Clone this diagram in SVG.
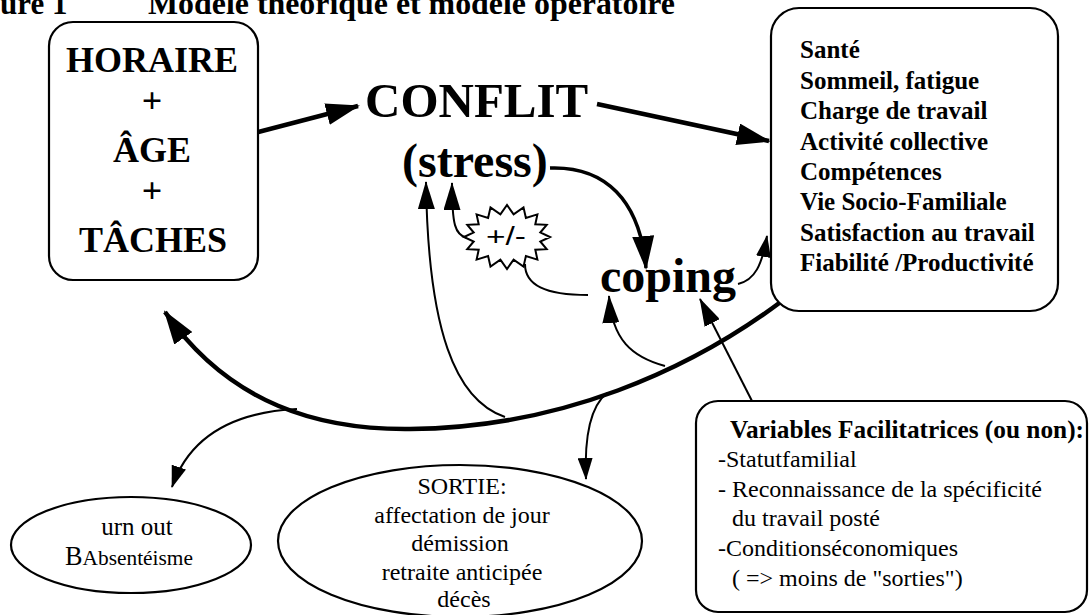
<svg xmlns="http://www.w3.org/2000/svg" width="1091" height="615" viewBox="0 0 1091 615">
<defs>
<style>
.t{font-family:"Liberation Serif","Times New Roman",serif;fill:#000}
.b{font-weight:bold}
.box{fill:#fff;stroke:#000;stroke-width:2.2}
.thick{fill:none;stroke:#000;stroke-width:4.5}
.mid{fill:none;stroke:#000;stroke-width:3.5}
.thin{fill:none;stroke:#000;stroke-width:2}
</style>
<marker id="big" markerUnits="userSpaceOnUse" viewBox="0 0 34 22" refX="32" refY="11" markerWidth="34" markerHeight="22" orient="auto"><path d="M0,0 L34,11 L0,22 z" fill="#000"/></marker>
<marker id="med" markerUnits="userSpaceOnUse" viewBox="0 0 28 17" refX="27" refY="8.5" markerWidth="28" markerHeight="17" orient="auto"><path d="M0,0 L28,8.5 L0,17 z" fill="#000"/></marker>
<marker id="sm" markerUnits="userSpaceOnUse" viewBox="0 0 22 15" refX="21" refY="7.5" markerWidth="22" markerHeight="15" orient="auto"><path d="M0,0 L22,7.5 L0,15 z" fill="#000"/></marker>
</defs>
<rect width="1091" height="615" fill="#fff"/>

<g id="title">
<text class="t b" x="0" y="14" font-size="31">ure 1</text>
<text class="t b" x="148" y="14" font-size="31" textLength="527" lengthAdjust="spacingAndGlyphs">Modèle théorique et modèle opératoire</text>
</g>

<g id="connectors">
<path class="thick" d="M197,148 L358,106" marker-end="url(#big)"/>
<path class="thick" d="M597,104 L769,141" marker-end="url(#big)"/>
<path class="mid" d="M550,168 C605,166 640,200 646,268" marker-end="url(#big)"/>
<path class="thin" d="M738,284 C755,280 762,265 767,236" marker-end="url(#sm)"/>
<path class="thick" d="M782,301 C690,370 560,428 410,429 C320,430 230,405 165,312" marker-end="url(#big)"/>
<path class="thin" d="M297,409 C235,412 190,435 172,487" marker-end="url(#sm)"/>
<path class="thin" d="M505,417 C455,400 428,330 426,182" marker-end="url(#med)"/>
<path class="thin" d="M467,238 C455,235 452,225 452,183" marker-end="url(#med)"/>
<path class="thin" d="M588,295 C545,295 525,285 525,264"/>
<path class="thin" d="M665,366 C632,357 612,340 609,296" marker-end="url(#med)"/>
<path class="thin" d="M752,401 L700,299" marker-end="url(#med)"/>
<path class="thin" d="M607,393 C592,405 584,430 586,479" marker-end="url(#sm)"/>
</g>

<g id="horaire">
<rect class="box" x="49" y="22" width="209" height="258" rx="24"/>
<text class="t b" x="152" y="72" font-size="36" text-anchor="middle">HORAIRE</text>
<text class="t b" x="152" y="113" font-size="36" text-anchor="middle">+</text>
<text class="t b" x="152" y="162" font-size="36" text-anchor="middle">ÂGE</text>
<text class="t b" x="152" y="203" font-size="36" text-anchor="middle">+</text>
<text class="t b" x="153" y="252" font-size="36" text-anchor="middle">TÂCHES</text>
</g>

<g id="conflit">
<text class="t b" x="365" y="117" font-size="49">CONFLIT</text>
<text class="t b" x="402" y="177" font-size="48">(stress)</text>
</g>

<g id="coping">
<text class="t b" x="600" y="292" font-size="48">coping</text>
</g>

<g id="plusminus">
<polygon fill="#fff" stroke="#000" stroke-width="2" points="550,237 540.3,241.5 546.7,249.2 535.3,249.8 537.4,259.6 525.9,256.1 523.5,266.6 513.6,259.6 507,269 500.4,259.6 490.5,266.6 488.1,256.1 476.6,259.6 478.7,249.8 467.3,249.2 473.7,241.5 464,237 473.7,232.5 467.3,224.8 478.7,224.2 476.6,214.4 488.1,217.9 490.5,207.4 500.4,214.4 507,205 513.6,214.4 523.5,207.4 525.9,217.9 537.4,214.4 535.3,224.2 546.7,224.8 540.3,232.5"/>
<text x="486" y="245" font-family="Liberation Sans, Arial, sans-serif" font-size="26" textLength="40" lengthAdjust="spacingAndGlyphs">+/-</text>
</g>

<g id="effets">
<rect class="box" x="771" y="8" width="287" height="303" rx="28"/>
<text class="t b" x="800" y="58" font-size="25">Santé</text>
<text class="t b" x="800" y="89" font-size="25">Sommeil, fatigue</text>
<text class="t b" x="800" y="119" font-size="25">Charge de travail</text>
<text class="t b" x="800" y="150" font-size="25">Activité collective</text>
<text class="t b" x="800" y="180" font-size="25">Compétences</text>
<text class="t b" x="800" y="210" font-size="25">Vie Socio-Familiale</text>
<text class="t b" x="800" y="241" font-size="25">Satisfaction au travail</text>
<text class="t b" x="800" y="271" font-size="25">Fiabilité /Productivité</text>
</g>

<g id="burnout">
<ellipse class="box" cx="131" cy="545" rx="120" ry="48"/>
<text class="t" x="137" y="535" font-size="25" text-anchor="middle">urn out</text>
<text class="t" x="65" y="565" font-size="22" textLength="128" lengthAdjust="spacingAndGlyphs"><tspan font-size="27">B</tspan>Absentéisme</text>
</g>

<g id="sortie">
<ellipse class="box" cx="460" cy="541" rx="182" ry="76"/>
<text class="t" x="462" y="494" font-size="24" text-anchor="middle">SORTIE:</text>
<text class="t" x="462" y="523" font-size="24" text-anchor="middle">affectation de jour</text>
<text class="t" x="460" y="551" font-size="24" text-anchor="middle">démission</text>
<text class="t" x="462" y="580" font-size="24" text-anchor="middle">retraite anticipée</text>
<text class="t" x="464" y="607" font-size="24" text-anchor="middle">décès</text>
</g>

<g id="variables">
<rect class="box" x="696" y="401" width="391" height="211" rx="22"/>
<text class="t b" x="730" y="438" font-size="25" textLength="354" lengthAdjust="spacingAndGlyphs">Variables Facilitatrices (ou non):</text>
<text class="t" x="718" y="467" font-size="24">-Statutfamilial</text>
<text class="t" x="718" y="497" font-size="24">- Reconnaissance de la spécificité</text>
<text class="t" x="732" y="526" font-size="24">du travail posté</text>
<text class="t" x="718" y="556" font-size="24">-Conditionséconomiques</text>
<text class="t" x="732" y="586" font-size="24">( =&gt; moins de "sorties")</text>
</g>
</svg>
